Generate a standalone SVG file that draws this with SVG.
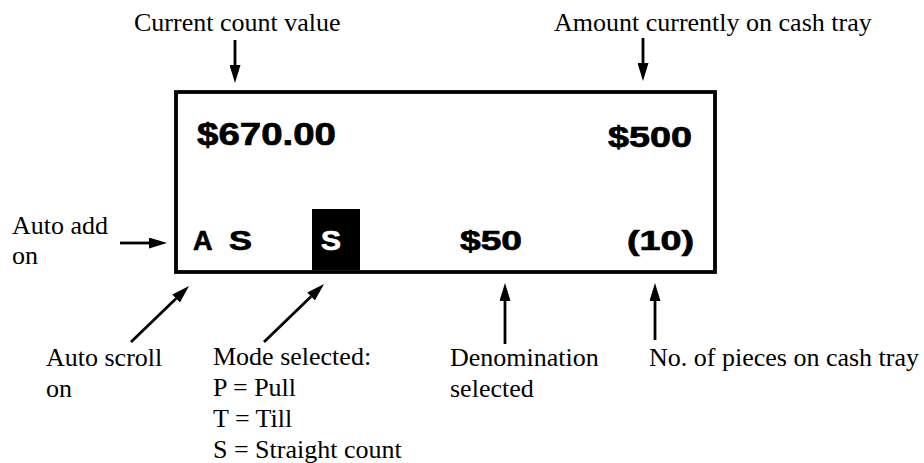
<svg xmlns="http://www.w3.org/2000/svg" width="924" height="463" viewBox="0 0 924 463">
<style>
.lbl{font-family:"Liberation Serif","Times New Roman",serif;font-size:26px;fill:#000}
.disp{font-family:"Liberation Sans",Arial,sans-serif;font-weight:bold;fill:#000;stroke:#000;stroke-width:0.7}
.conn line{stroke:#000;stroke-width:2.8;marker-end:url(#ah)}
</style>
<defs>
<marker id="ah" viewBox="0 0 18 11" refX="0" refY="5.5" markerWidth="18" markerHeight="11" markerUnits="userSpaceOnUse" orient="auto">
<path d="M0,0 L18,5.5 L0,11 z" fill="#000"/>
</marker>
</defs>
<rect width="924" height="463" fill="#fff"/>
<g id="display">
<rect x="176" y="92" width="539" height="180" fill="none" stroke="#000" stroke-width="3.8"/>
<text class="disp" x="197" y="145" font-size="31" textLength="139" lengthAdjust="spacingAndGlyphs">$670.00</text>
<text class="disp" x="608" y="147" font-size="29" textLength="84" lengthAdjust="spacingAndGlyphs">$500</text>
<text class="disp" x="193" y="250" font-size="27">A</text>
<text class="disp" x="229" y="250" font-size="27" textLength="23" lengthAdjust="spacingAndGlyphs">S</text>
<rect x="312" y="209" width="48" height="61" fill="#000"/>
<text class="disp" x="321" y="250" font-size="27" textLength="20" lengthAdjust="spacingAndGlyphs" style="fill:#fff;stroke:#fff">S</text>
<text class="disp" x="460" y="250" font-size="28" textLength="62" lengthAdjust="spacingAndGlyphs">$50</text>
<text class="disp" x="627" y="250" font-size="28" textLength="67" lengthAdjust="spacingAndGlyphs">(10)</text>
</g>
<g id="label-current"><text class="lbl" x="134" y="31">Current count value</text></g>
<g id="label-amount"><text class="lbl" x="554" y="31">Amount currently on cash tray</text></g>
<g id="label-autoadd"><text class="lbl" x="12" y="234">Auto add</text><text class="lbl" x="12" y="264">on</text></g>
<g id="label-autoscroll"><text class="lbl" x="46" y="366">Auto scroll</text><text class="lbl" x="46" y="397">on</text></g>
<g id="label-mode"><text class="lbl" x="213" y="365">Mode selected:</text><text class="lbl" x="213" y="396">P = Pull</text><text class="lbl" x="213" y="427">T = Till</text><text class="lbl" x="213" y="458">S = Straight count</text></g>
<g id="label-denom"><text class="lbl" x="450" y="366">Denomination</text><text class="lbl" x="450" y="397">selected</text></g>
<g id="label-pieces"><text class="lbl" x="649" y="366">No. of pieces on cash tray</text></g>
<g id="connectors" class="conn">
<line x1="235" y1="40" x2="235" y2="65"/>
<line x1="643" y1="38" x2="643" y2="63"/>
<line x1="120" y1="243" x2="149" y2="243"/>
<line x1="131" y1="342" x2="176.1" y2="298.5"/>
<line x1="264" y1="342" x2="311.1" y2="296.5"/>
<line x1="505" y1="344" x2="505" y2="301"/>
<line x1="655" y1="340" x2="655" y2="301"/>
</g>
</svg>
